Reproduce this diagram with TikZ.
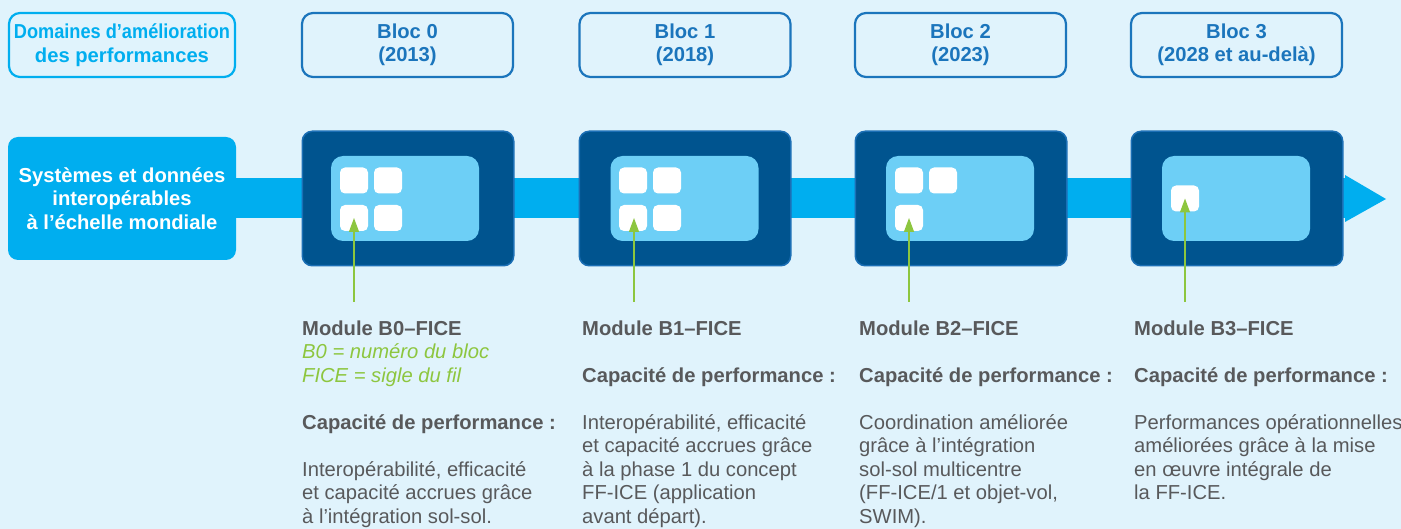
\documentclass[tikz,border=0pt]{standalone}
\usepackage{fontspec}
\setmainfont{Liberation Sans}
\usetikzlibrary{arrows.meta}

\definecolor{bgcol}{HTML}{E0F3FC}
\definecolor{brightblue}{HTML}{00AEEF}
\definecolor{blocblue}{HTML}{1B75BC}
\definecolor{moddark}{HTML}{00548F}
\definecolor{modedge}{HTML}{1C6FB5}
\definecolor{modinner}{HTML}{6DCFF6}
\definecolor{leaf}{HTML}{8DC63F}
\definecolor{bodygray}{HTML}{58595B}

\newcommand\mainsize{\fontsize{20.2}{23.5}\selectfont}
% fixed height for the first line of a description block
\newcommand\firstline{\rule{0pt}{16pt}}

\begin{document}
\begin{tikzpicture}[x=1pt,y=-1pt,
  domainbox/.style={draw=brightblue, line width=2.2pt, rounded corners=11pt,
    minimum width=226pt, minimum height=64pt, inner sep=0pt,
    text=brightblue, font=\mainsize\bfseries, align=center},
  blochdr/.style={draw=blocblue, line width=2.2pt, rounded corners=11pt,
    minimum width=211pt, minimum height=64pt, inner sep=0pt,
    text=blocblue, font=\mainsize\bfseries, align=center},
  sysbox/.style={fill=brightblue, rounded corners=10pt,
    minimum width=228pt, minimum height=123pt, inner sep=0pt,
    text=white, font=\mainsize\bfseries, align=center},
  modbox/.style={fill=moddark, draw=modedge, line width=1.5pt, rounded corners=10pt,
    minimum width=211.5pt, minimum height=134.5pt, inner sep=0pt},
  innerbox/.style={fill=modinner, rounded corners=12pt,
    minimum width=148pt, minimum height=85pt, inner sep=0pt},
  tile/.style={fill=white, rounded corners=5pt,
    minimum width=28pt, minimum height=26pt, inner sep=0pt},
  pointer/.style={draw=leaf, line width=1.3pt,
    -{Triangle[width=10pt,length=14pt]}, fill=leaf},
  coltext/.style={anchor=north west, inner sep=0pt, align=left,
    text=bodygray, font=\mainsize}
]
% background and page size
\fill[bgcol] (0,0) rectangle (1401,529);
\useasboundingbox (0,0) rectangle (1401,529);

% timeline band with arrow head
\fill[brightblue] (200,178) rectangle (1346,218);
\fill[brightblue] (1345,175) -- (1386,199) -- (1345,222) -- cycle;

% column headers
\node[domainbox] (dom) at (122,45) {\scalebox{0.9}[1]{Domaines d’amélioration}\\des performances};
\node[blochdr] (h0) at (407.5,45) {Bloc 0\\(2013)};
\node[blochdr] (h1) at (685,45) {Bloc 1\\(2018)};
\node[blochdr] (h2) at (960.5,45) {Bloc 2\\(2023)};
\node[blochdr] (h3) at (1236.5,45) {Bloc 3\\(2028 et au-delà)};

% performance area
\node[sysbox] (sys) at (122,198.5) {Systèmes et données\\interopérables\\à l’échelle mondiale};

% modules
\node[modbox] (m0) at (408,198.5) {};
\node[modbox] (m1) at (685,198.5) {};
\node[modbox] (m2) at (961,198.5) {};
\node[modbox] (m3) at (1237,198.5) {};

\node[innerbox] (i0) at (405,198.5) {};
\node[innerbox] (i1) at (684.5,198.5) {};
\node[innerbox] (i2) at (960,198.5) {};
\node[innerbox] (i3) at (1236,198.5) {};

% module tiles
\node[tile] (t0a) at (354,180.5) {};
\node[tile] (t0b) at (388,180.5) {};
\node[tile] (t0c) at (354,218) {};
\node[tile] (t0d) at (388,218) {};

\node[tile] (t1a) at (633,180.5) {};
\node[tile] (t1b) at (667,180.5) {};
\node[tile] (t1c) at (633,218) {};
\node[tile] (t1d) at (667,218) {};

\node[tile] (t2a) at (909,180.5) {};
\node[tile] (t2b) at (943,180.5) {};
\node[tile] (t2c) at (909,218) {};

\node[tile] (t3a) at (1185,198.5) {};

% pointers from the descriptions
\coordinate (p0) at (354,302);
\coordinate (p1) at (634,302);
\coordinate (p2) at (909,302);
\coordinate (p3) at (1185,302);
\draw[pointer] (p0) -- (t0c.center);
\draw[pointer] (p1) -- (p1 |- t1c.center);
\draw[pointer] (p2) -- (t2c.center);
\draw[pointer] (p3) -- (t3a.center);

% descriptions
\node[coltext] (d0) at (302,319) {\firstline\textbf{Module B0–FICE}\\
  {\color{leaf}\itshape B0 = numéro du bloc}\\
  {\color{leaf}\itshape FICE = sigle du fil}\\[23.5pt]
  \textbf{Capacité de performance :}\\[23.5pt]
  Interopérabilité, efficacité\\
  et capacité accrues grâce\\
  à l’intégration sol-sol.};

\node[coltext] (d1) at (582,319) {\firstline\textbf{Module B1–FICE}\\[23.5pt]
  \textbf{Capacité de performance :}\\[23.5pt]
  Interopérabilité, efficacité\\
  et capacité accrues grâce\\
  à la phase 1 du concept\\
  FF-ICE (application\\
  avant départ).};

\node[coltext] (d2) at (859,319) {\firstline\textbf{Module B2–FICE}\\[23.5pt]
  \textbf{Capacité de performance :}\\[23.5pt]
  Coordination améliorée\\
  grâce à l’intégration\\
  sol-sol multicentre\\
  (FF-ICE/1 et objet-vol,\\
  SWIM).};

\node[coltext] (d3) at (1134,319) {\firstline\textbf{Module B3–FICE}\\[23.5pt]
  \textbf{Capacité de performance :}\\[23.5pt]
  Performances opérationnelles\\
  améliorées grâce à la mise\\
  en œuvre intégrale de\\
  la FF-ICE.};
\end{tikzpicture}
\end{document}
